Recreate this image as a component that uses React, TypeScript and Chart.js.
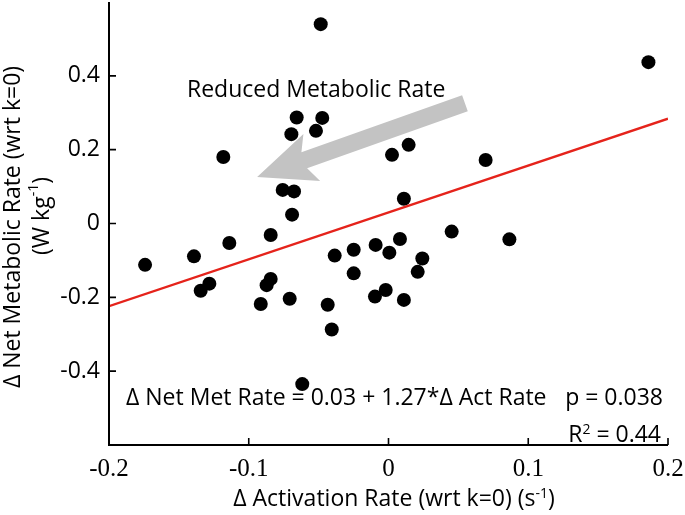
import React, { useEffect, useRef } from 'react';
import { Chart, registerables } from 'chart.js';

Chart.register(...registerables);

// Δ Activation Rate (wrt k=0) (s^-1)
const activationRate = [
  -0.0485, 0.186, -0.0657, -0.0474, -0.0695, -0.0519, -0.1182, 0.0025, 0.0144, 0.0695,
  -0.0757, -0.0676, -0.069, 0.011, -0.0843, -0.1139, -0.1742, -0.1392, 0.0452, 0.0865,
  -0.0385, -0.0249, -0.0092, 0.0082, 0.0006, 0.0242, 0.0209, -0.0249, -0.1282, -0.1344,
  -0.0843, -0.0872, -0.0914, -0.0707, -0.0435, -0.0406, -0.0097, -0.002, 0.011, -0.0617,
];
// Δ Net Metabolic Rate (wrt k=0) (W kg^-1)
const metabolicRate = [
  0.54, 0.437, 0.287, 0.286, 0.242, 0.251, 0.18, 0.186, 0.213, 0.172,
  0.091, 0.087, 0.024, 0.067, -0.031, -0.053, -0.112, -0.089, -0.022, -0.043,
  -0.087, -0.071, -0.058, -0.042, -0.079, -0.095, -0.131, -0.135, -0.163, -0.182,
  -0.15, -0.167, -0.218, -0.204, -0.22, -0.287, -0.198, -0.18, -0.207, -0.435,
];

// Regression: Δ Net Met Rate = 0.03 + 1.27 * Δ Act Rate
const fitIntercept = 0.03;
const fitSlope = 1.27;
const fitXRange = [-0.2, 0.2];

const xRange = [-0.2, 0.2];
const yRange = [-0.6, 0.6];
const xTickStep = 0.05;
const yTickStep = 0.2;

// Arrow annotation (data coords): tail -> tip
const arrowTail = [0.0547, 0.326];
const arrowTip = [-0.094, 0.126];

const SANS = '"Open Sans", "Noto Sans", sans-serif';
const SERIF = '"Liberation Serif", "DejaVu Serif", serif';

type Run = { t: string; sup?: boolean };

function runsWidth(ctx: CanvasRenderingContext2D, runs: Run[], size: number, supSize: number) {
  let w = 0;
  for (const r of runs) {
    ctx.font = `${r.sup ? supSize : size}px ${SANS}`;
    w += ctx.measureText(r.t).width;
  }
  return w;
}

function drawRuns(
  ctx: CanvasRenderingContext2D,
  runs: Run[],
  x: number,
  y: number,
  align: 'left' | 'center' | 'right',
  size: number,
  supSize: number,
  supRaise: number,
) {
  const total = runsWidth(ctx, runs, size, supSize);
  let cx = align === 'left' ? x : align === 'center' ? x - total / 2 : x - total;
  ctx.textAlign = 'left';
  for (const r of runs) {
    ctx.font = `${r.sup ? supSize : size}px ${SANS}`;
    ctx.fillText(r.t, cx, r.sup ? y - supRaise : y);
    cx += ctx.measureText(r.t).width;
  }
}

const decorPlugin = {
  id: 'decor',
  beforeDatasetsDraw(chart: any) {
    const { ctx } = chart;
    const xs = chart.scales.x;
    const ys = chart.scales.y;
    // Gray arrow
    const tx = xs.getPixelForValue(arrowTail[0]);
    const ty = ys.getPixelForValue(arrowTail[1]);
    const hx = xs.getPixelForValue(arrowTip[0]);
    const hy = ys.getPixelForValue(arrowTip[1]);
    const dx = hx - tx;
    const dy = hy - ty;
    const len = Math.hypot(dx, dy);
    const ux = dx / len;
    const uy = dy / len;
    const nx = -uy;
    const ny = ux;
    const shaftHalf = 8.5;
    const headHalf = 25;
    const headLen = 50;
    const bx = hx - ux * headLen;
    const by = hy - uy * headLen;
    ctx.save();
    ctx.fillStyle = '#c3c3c3';
    ctx.beginPath();
    ctx.moveTo(tx + nx * shaftHalf, ty + ny * shaftHalf);
    ctx.lineTo(bx + nx * shaftHalf, by + ny * shaftHalf);
    ctx.lineTo(bx + nx * headHalf - ux * 8, by + ny * headHalf - uy * 8);
    ctx.lineTo(hx, hy);
    ctx.lineTo(bx - nx * headHalf - ux * 8, by - ny * headHalf - uy * 8);
    ctx.lineTo(bx - nx * shaftHalf, by - ny * shaftHalf);
    ctx.lineTo(tx - nx * shaftHalf, ty - ny * shaftHalf);
    ctx.closePath();
    ctx.fill();
    ctx.restore();
  },
  afterDraw(chart: any) {
    const { ctx, chartArea } = chart;
    const xs = chart.scales.x;
    const ys = chart.scales.y;
    const { left, right, top, bottom } = chartArea;
    ctx.save();
    // axes lines
    ctx.strokeStyle = '#000';
    ctx.lineWidth = 2;
    ctx.beginPath();
    ctx.moveTo(left, top);
    ctx.lineTo(left, bottom);
    ctx.lineTo(right, bottom);
    ctx.stroke();
    // inward ticks
    ctx.lineWidth = 1.6;
    const tl = 7;
    ctx.beginPath();
    for (const t of xs.ticks) {
      const px = xs.getPixelForValue(t.value);
      ctx.moveTo(px, bottom);
      ctx.lineTo(px, bottom - tl);
    }
    for (const t of ys.ticks) {
      const py = ys.getPixelForValue(t.value);
      ctx.moveTo(left, py);
      ctx.lineTo(left + tl, py);
    }
    ctx.stroke();

    ctx.fillStyle = '#000';
    ctx.textBaseline = 'alphabetic';
    // x title
    drawRuns(
      ctx,
      [{ t: 'Δ Activation Rate (wrt k=0) (s' }, { t: '-1', sup: true }, { t: ')' }],
      394, 506, 'center', 23, 14, 8,
    );
    // y title (rotated)
    ctx.save();
    ctx.translate(13, 227);
    ctx.rotate(-Math.PI / 2);
    ctx.textBaseline = 'middle';
    drawRuns(ctx, [{ t: 'Δ Net Metabolic Rate (wrt k=0)' }], 0, 0, 'center', 23, 14, 8);
    ctx.restore();
    ctx.save();
    ctx.translate(42, 216);
    ctx.rotate(-Math.PI / 2);
    ctx.textBaseline = 'middle';
    drawRuns(ctx, [{ t: '(W kg' }, { t: '-1', sup: true }, { t: ')' }], 0, 0, 'center', 23, 14, 8);
    ctx.restore();

    ctx.textBaseline = 'alphabetic';
    // Reduced Metabolic Rate
    drawRuns(ctx, [{ t: 'Reduced Metabolic Rate' }], 187, 97, 'left', 23, 14, 8);
    // equation
    drawRuns(
      ctx,
      [{ t: `Δ Net Met Rate = ${fitIntercept.toFixed(2)} + ${fitSlope.toFixed(2)}*Δ Act Rate` }],
      126, 405, 'left', 23, 14, 8,
    );
    drawRuns(ctx, [{ t: 'p = 0.038' }], 663, 405, 'right', 23, 14, 8);
    drawRuns(ctx, [{ t: 'R' }, { t: '2', sup: true }, { t: ' = 0.44' }], 661, 442, 'right', 23, 14, 8);
    ctx.restore();
  },
};

export default function App() {
  const ref = useRef<HTMLCanvasElement | null>(null);
  useEffect(() => {
    document.body.style.margin = '0';
    const canvas = ref.current;
    if (!canvas) return;
    const points = activationRate.map((x, i) => ({ x, y: metabolicRate[i] }));
    const fitLine = fitXRange.map((x) => ({ x, y: fitIntercept + fitSlope * x }));
    const chart = new Chart(canvas, {
      type: 'scatter',
      data: {
        datasets: [
          {
            type: 'line',
            data: fitLine,
            borderColor: '#e5231b',
            borderWidth: 2.4,
            pointRadius: 0,
            fill: false,
            order: 0,
          } as any,
          {
            type: 'scatter',
            data: points,
            backgroundColor: '#000',
            borderWidth: 0,
            pointRadius: 7,
            order: 1,
          },
        ],
      },
      options: {
        responsive: false,
        animation: false,
        layout: { padding: { left: 0, top: 2, right: 17, bottom: 0 }, autoPadding: false } as any,
        plugins: { legend: { display: false }, tooltip: { enabled: false } },
        scales: {
          x: {
            type: 'linear',
            min: xRange[0],
            max: xRange[1],
            grid: { display: false, drawTicks: false },
            border: { display: false },
            afterFit: (s: any) => {
              s.height = 70;
              s.paddingLeft = 0;
              s.paddingRight = 0;
              s.paddingTop = 0;
              s.paddingBottom = 0;
            },
            ticks: {
              stepSize: xTickStep,
              autoSkip: false,
              maxRotation: 0,
              padding: 9,
              color: '#000',
              font: { family: SERIF, size: 25 },
              callback: (v: any) => {
                const r = Math.round(Number(v) * 100) / 100;
                if (Math.abs(r * 10 - Math.round(r * 10)) > 1e-6) return null;
                return r === 0 ? '0' : r.toFixed(1);
              },
            },
          },
          y: {
            type: 'linear',
            min: yRange[0],
            max: yRange[1],
            grid: { display: false, drawTicks: false },
            border: { display: false },
            afterFit: (s: any) => {
              s.width = 109;
              s.paddingLeft = 0;
              s.paddingRight = 0;
              s.paddingTop = 0;
              s.paddingBottom = 0;
            },
            ticks: {
              stepSize: yTickStep,
              padding: 9,
              color: '#000',
              font: { family: SANS, size: 23 },
              callback: (v: any) => {
                const r = Math.round(Number(v) * 10) / 10;
                if (Math.abs(r) > 0.5) return null;
                return r === 0 ? '0' : r.toFixed(1);
              },
            },
          },
        },
      },
      plugins: [decorPlugin],
    });
    return () => chart.destroy();
  }, []);
  return <canvas ref={ref} width={685} height={515} style={{ display: 'block' }} />;
}
